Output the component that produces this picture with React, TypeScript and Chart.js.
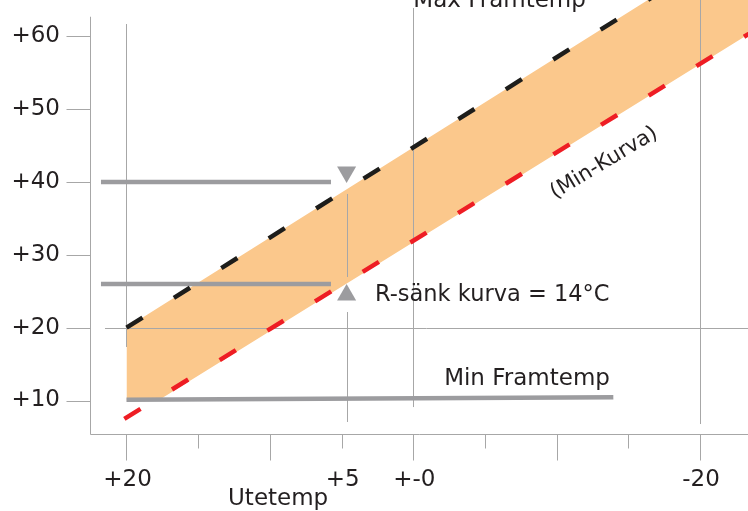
import React, { useEffect, useRef } from 'react';
import { Chart, registerables } from 'chart.js';

Chart.register(...registerables);

const FONT = '"DejaVu Sans", sans-serif';

// Axis ticks (outdoor temperature, reversed) and flow temperature
const xTickValues = [20, 15, 10, 5, 0, -5, -10, -15, -20];
const xLabelValues = [20, 5, 0, -20];
const xLabels = ['+20', '+5', '+-0', '-20'];
const yTickValues = [10, 20, 30, 40, 50, 60];
const yLabels = ['+10', '+20', '+30', '+40', '+50', '+60'];

// Max curve (black dashed) and min curve (red dashed)
const maxCurveT = [20, -25];
const maxCurveV = [20, 75.7];
const minCurveT = [20.15, -25];
const minCurveV = [7.48, 62.3];

// Band between the curves, limited below by min flow temp
const bandT = [20, 17.79, -25];
const bandLowV = [10, 10, 62.3];
const bandHighV = [20, 22.73, 75.7];

// Grey level lines
const upperLevelT = [21.78, 5.74];
const upperLevelV = [40, 40];
const lowerLevelT = [21.78, 5.74];
const lowerLevelV = [26, 26];
const minFlowT = [20, -13.95];
const minFlowV = [10.1, 10.45];

// Triangle markers (down, up)
const markerDownT = [4.65];
const markerDownV = [41.38];
const markerUpT = [4.65];
const markerUpV = [24.49];

const pts = (xs: number[], ys: number[]) => xs.map((x, i) => ({ x, y: ys[i] }));

const GRID = '#a7a7a7';
const TEXT = '#231f20';

export default function App() {
  const ref = useRef<HTMLCanvasElement>(null);

  useEffect(() => {
    if (!ref.current) return;

    const gridPlugin = {
      id: 'gridAfterBand',
      afterDatasetDraw(chart: any, args: any) {
        if (args.index !== 1) return;
        const { ctx } = chart;
        const x = chart.scales.x;
        const y = chart.scales.y;
        ctx.save();
        ctx.strokeStyle = GRID;
        ctx.lineWidth = 1;
        const vline = (t: number, v1: number, v2: number) => {
          const px = Math.round(x.getPixelForValue(t)) + 0.5;
          ctx.beginPath();
          ctx.moveTo(px, y.getPixelForValue(v1));
          ctx.lineTo(px, y.getPixelForValue(v2));
          ctx.stroke();
        };
        vline(20, 61.7, 17.35);
        vline(0, 63.9, 9.1);
        vline(-20, 66, 6.77);
        vline(4.65, 38.36, 26.96);
        vline(4.65, 22.15, 7.05);
        const py = Math.round(y.getPixelForValue(20)) + 0.5;
        ctx.beginPath();
        ctx.moveTo(x.getPixelForValue(21.5), py);
        ctx.lineTo(x.getPixelForValue(-23.34), py);
        ctx.stroke();
        ctx.restore();
      },
    };

    const axesPlugin = {
      id: 'customAxes',
      afterDraw(chart: any) {
        const { ctx, chartArea } = chart;
        const x = chart.scales.x;
        const y = chart.scales.y;
        ctx.save();
        ctx.strokeStyle = GRID;
        ctx.lineWidth = 1;
        const ax = chartArea.left + 0.5;
        const ay = chartArea.bottom + 0.5;
        // axes
        ctx.beginPath();
        ctx.moveTo(ax, y.getPixelForValue(62.7));
        ctx.lineTo(ax, ay);
        ctx.lineTo(chartArea.right, ay);
        ctx.stroke();
        // y ticks
        yTickValues.forEach((v) => {
          const py = Math.round(y.getPixelForValue(v)) + 0.5;
          ctx.beginPath();
          ctx.moveTo(ax - 24, py);
          ctx.lineTo(ax, py);
          ctx.stroke();
        });
        // x ticks
        xTickValues.forEach((t) => {
          const px = Math.round(x.getPixelForValue(t)) + 0.5;
          const len = t % 10 === 0 ? 26 : 14;
          ctx.beginPath();
          ctx.moveTo(px, ay);
          ctx.lineTo(px, ay + len);
          ctx.stroke();
        });
        // labels
        ctx.fillStyle = TEXT;
        ctx.font = `23px ${FONT}`;
        ctx.textAlign = 'right';
        ctx.textBaseline = 'middle';
        yTickValues.forEach((v, i) => {
          ctx.fillText(yLabels[i], 60, y.getPixelForValue(v));
        });
        ctx.textAlign = 'center';
        ctx.textBaseline = 'alphabetic';
        xLabelValues.forEach((t, i) => {
          ctx.fillText(xLabels[i], x.getPixelForValue(t) + 1, 486);
        });
        ctx.textAlign = 'left';
        ctx.fillText('Utetemp', x.getPixelForValue(12.92), 505);

        // annotations
        ctx.fillText('Max Framtemp', x.getPixelForValue(0), y.getPixelForValue(64.04));
        ctx.fillText('Min Framtemp', x.getPixelForValue(-2.15), y.getPixelForValue(12.13));
        ctx.font = `22.5px ${FONT}`;
        ctx.fillText('R-sänk kurva = 14°C', x.getPixelForValue(2.67), y.getPixelForValue(23.66));
        ctx.save();
        ctx.translate(x.getPixelForValue(-13.3), y.getPixelForValue(42.6));
        ctx.rotate((-31 * Math.PI) / 180);
        ctx.font = `21px ${FONT}`;
        ctx.textAlign = 'center';
        ctx.textBaseline = 'middle';
        ctx.fillText('(Min-Kurva)', 0, 0);
        ctx.restore();
        ctx.restore();
      },
    };

    const none = { pointRadius: 0, pointHoverRadius: 0 };

    const chart = new Chart(ref.current, {
      type: 'line',
      data: {
        datasets: [
          {
            label: 'bandLow',
            data: pts(bandT, bandLowV),
            borderWidth: 0,
            borderColor: 'transparent',
            fill: false,
            order: 10,
            ...none,
          },
          {
            label: 'band',
            data: pts(bandT, bandHighV),
            borderWidth: 0,
            borderColor: 'transparent',
            backgroundColor: '#fbc88c',
            fill: '-1',
            order: 9,
            ...none,
          },
          {
            label: 'upper',
            data: pts(upperLevelT, upperLevelV),
            borderColor: '#9c9c9f',
            borderWidth: 4.5,
            borderCapStyle: 'butt',
            fill: false,
            order: 5,
            ...none,
          },
          {
            label: 'lower',
            data: pts(lowerLevelT, lowerLevelV),
            borderColor: '#9c9c9f',
            borderWidth: 4.5,
            borderCapStyle: 'butt',
            fill: false,
            order: 5,
            ...none,
          },
          {
            label: 'minflow',
            data: pts(minFlowT, minFlowV),
            borderColor: '#9c9c9f',
            borderWidth: 4.5,
            borderCapStyle: 'butt',
            fill: false,
            order: 5,
            ...none,
          },
          {
            label: 'max',
            data: pts(maxCurveT, maxCurveV),
            borderColor: '#1d1d1b',
            borderWidth: 4.5,
            borderDash: [19, 37],
            borderCapStyle: 'butt',
            fill: false,
            order: 3,
            ...none,
          },
          {
            label: 'min',
            data: pts(minCurveT, minCurveV),
            borderColor: '#ee1d24',
            borderWidth: 4.5,
            borderDash: [19, 37],
            borderCapStyle: 'butt',
            fill: false,
            order: 3,
            ...none,
          },
          {
            label: 'down',
            data: pts(markerDownT, markerDownV),
            showLine: false,
            pointStyle: 'triangle',
            pointRotation: 180,
            pointRadius: 11,
            pointBackgroundColor: '#9c9c9f',
            pointBorderWidth: 0,
            pointBorderColor: 'transparent',
            order: 1,
          },
          {
            label: 'up',
            data: pts(markerUpT, markerUpV),
            showLine: false,
            pointStyle: 'triangle',
            pointRadius: 11,
            pointBackgroundColor: '#9c9c9f',
            pointBorderWidth: 0,
            pointBorderColor: 'transparent',
            order: 1,
          },
        ],
      },
      options: {
        animation: false,
        responsive: true,
        maintainAspectRatio: false,
        events: [],
        layout: { autoPadding: false, padding: { left: 90, right: 0, top: 0, bottom: 77 } },
        plugins: { legend: { display: false }, tooltip: { enabled: false } },
        scales: {
          x: { type: 'linear', min: -23.34, max: 22.545, reverse: true, display: false },
          y: { type: 'linear', min: 5.4, max: 65.0, display: false },
        },
      } as any,
      plugins: [gridPlugin, axesPlugin],
    } as any);

    return () => chart.destroy();
  }, []);

  return (
    <div style={{ position: 'absolute', left: 0, top: 0, width: 748, height: 511, background: '#fff' }}>
      <canvas ref={ref} />
    </div>
  );
}
